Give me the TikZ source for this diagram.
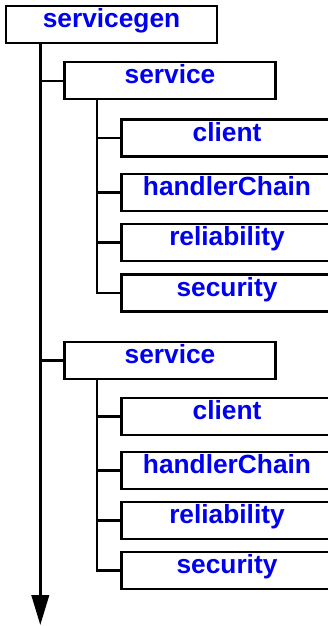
\documentclass[tikz,border=0pt]{standalone}
\usepackage{fontspec}
\setmainfont{Liberation Sans}
\usetikzlibrary{arrows.meta}
\definecolor{lblue}{RGB}{0,0,240}
\begin{document}
\begin{tikzpicture}[x=1pt,y=-1pt,
 elem/.style={draw=black, line width=2.4pt, minimum width=211pt, inner xsep=0pt, inner ysep=0pt, outer sep=0pt, text height=21.5pt, text depth=15.5pt, anchor=north west, font=\fontsize{26.3}{30}\selectfont\bfseries, text=lblue},
 link/.style={line width=2.4pt},
]
\useasboundingbox (0,0) rectangle (328,626);
\node[elem] (root) at (6,6) {servicegen};
\node[elem] (svcA) at (64.5,62.2) {service};
\node[elem] (cliA) at (121.5,119.5) {client};
\node[elem] (hcA) at (121.5,173.8) {handlerChain};
\node[elem] (relA) at (121.5,223.8) {reliability};
\node[elem] (secA) at (121.5,274.5) {security};
\node[elem] (svcB) at (64.5,341.8) {service};
\node[elem] (cliB) at (121.5,397.8) {client};
\node[elem] (hcB) at (121.5,451.8) {handlerChain};
\node[elem] (relB) at (121.5,501.8) {reliability};
\node[elem] (secB) at (121.5,551.8) {security};
\coordinate (tip) at (40.3,625);
\coordinate (subA) at (97.2,0);
\draw[link, -{Triangle[length=30pt,width=17.5pt]}] (root.south -| tip) -- (tip);
\draw[link] (svcA.west) -- (svcA.west -| tip);
\draw[link] (svcB.west) -- (svcB.west -| tip);
\draw[link] (svcA.south -| subA) |- (secA.west);
\draw[link] (cliA.west) -- (cliA.west -| subA);
\draw[link] (hcA.west) -- (hcA.west -| subA);
\draw[link] (relA.west) -- (relA.west -| subA);
\draw[link] (svcB.south -| subA) |- (secB.west);
\draw[link] (cliB.west) -- (cliB.west -| subA);
\draw[link] (hcB.west) -- (hcB.west -| subA);
\draw[link] (relB.west) -- (relB.west -| subA);
\end{tikzpicture}
\end{document}
